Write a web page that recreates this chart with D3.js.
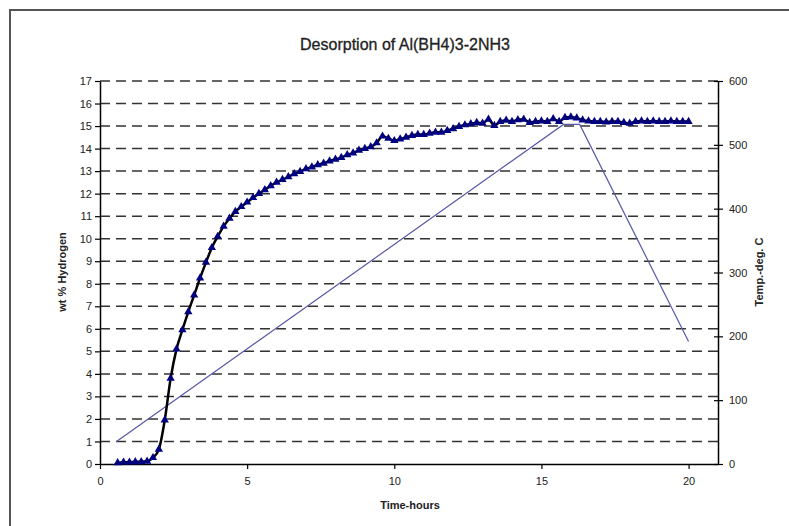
<!DOCTYPE html>
<html>
<head>
<meta charset="utf-8">
<script src="https://cdn.jsdelivr.net/npm/d3@7"></script>
<style>
  body { margin: 0; background: #fff; }
  text { font-family: "Liberation Sans", Arial, sans-serif; fill: #222; }
</style>
</head>
<body>
<svg id="chart" width="789" height="526"></svg>
<script>
// wt % hydrogen readings (time in hours)
var hTime = [0.6, 0.8, 1.0, 1.2, 1.4, 1.6, 1.8, 2.0, 2.2, 2.4, 2.6, 2.8, 3.0, 3.2, 3.4, 3.6, 3.8, 4.0,
  4.2, 4.4, 4.6, 4.8, 5.0, 5.2, 5.4, 5.6, 5.8, 6.0, 6.2, 6.4, 6.6, 6.8, 7.0, 7.2, 7.4, 7.6, 7.8, 8.0,
  8.2, 8.4, 8.6, 8.8, 9.0, 9.2, 9.4, 9.6, 9.8, 10.0, 10.2, 10.4, 10.6, 10.8, 11.0, 11.2, 11.4, 11.6,
  11.8, 12.0, 12.2, 12.4, 12.6, 12.8, 13.0, 13.2, 13.4, 13.6, 13.8, 14.0, 14.2, 14.4, 14.6, 14.8,
  15.0, 15.2, 15.4, 15.6, 15.8, 16.0, 16.2, 16.4, 16.6, 16.8, 17.0, 17.2, 17.4, 17.6, 17.8, 18.0,
  18.2, 18.4, 18.6, 18.8, 19.0, 19.2, 19.4, 19.6, 19.8, 20.0];
var hWt = [0.05, 0.08, 0.08, 0.1, 0.1, 0.12, 0.28, 0.65, 1.95, 3.8, 5.1, 5.95, 6.75, 7.5, 8.25, 8.95, 9.6, 10.1,
  10.55, 10.9, 11.2, 11.42, 11.62, 11.82, 12.0, 12.17, 12.35, 12.5, 12.62, 12.75, 12.88, 12.98, 13.1, 13.18, 13.28, 13.35, 13.45, 13.52,
  13.6, 13.72, 13.8, 13.92, 14.0, 14.08, 14.25, 14.55, 14.45, 14.35, 14.42, 14.5, 14.58, 14.62, 14.62, 14.68, 14.72, 14.72,
  14.8, 14.88, 14.98, 15.05, 15.1, 15.15, 15.12, 15.3, 15.02, 15.2, 15.25, 15.2, 15.28, 15.3, 15.15, 15.2,
  15.22, 15.2, 15.32, 15.2, 15.38, 15.4, 15.35, 15.27, 15.22, 15.2, 15.2, 15.18, 15.2, 15.2, 15.15, 15.12,
  15.2, 15.22, 15.2, 15.22, 15.2, 15.2, 15.22, 15.2, 15.2, 15.2];

// temperature program
var tTime = [0.55, 15.75, 16.3, 20.0];
var tDeg = [35, 532, 532, 192];

var xTicks = [0, 5, 10, 15, 20];
var wtTicks = d3.range(0, 18);
var tempTicks = [0, 100, 200, 300, 400, 500, 600];

var svg = d3.select("#chart");

// outer frame
svg.append("rect")
    .attr("x", 10).attr("y", 10)
    .attr("width", 800).attr("height", 540)
    .attr("fill", "none")
    .attr("stroke", "#555")
    .attr("stroke-width", 2);

var x = d3.scaleLinear().domain([0, 21]).range([100, 718]);
var y = d3.scaleLinear().domain([0, 17]).range([464, 81]);
var yT = d3.scaleLinear().domain([0, 600]).range([464, 81]);

// dashed gridlines
svg.append("g").selectAll("line")
    .data(wtTicks.filter(function(d) { return d > 0; }))
    .enter().append("line")
    .attr("x1", x(0)).attr("x2", x(21))
    .attr("y1", function(d) { return y(d); })
    .attr("y2", function(d) { return y(d); })
    .attr("stroke", "#333")
    .attr("stroke-width", 1.5)
    .attr("stroke-dasharray", "10,6");

// axes
var gx = svg.append("g").attr("transform", "translate(0," + y(0) + ")")
    .call(d3.axisBottom(x).tickValues(xTicks).tickSize(5).tickSizeOuter(0).tickPadding(8));
var gy = svg.append("g").attr("transform", "translate(" + x(0) + ",0)")
    .call(d3.axisLeft(y).tickValues(wtTicks).tickSize(5).tickSizeOuter(0).tickPadding(3));
var gr = svg.append("g").attr("transform", "translate(" + x(21) + ",0)")
    .call(d3.axisRight(yT).tickValues(tempTicks).tickSize(5).tickSizeOuter(0).tickPadding(6));
gr.selectAll(".tick line").attr("x1", -4);

[gx, gy, gr].forEach(function(g) {
  g.select(".domain").attr("stroke", "#000").attr("stroke-width", 1.5);
  g.selectAll(".tick line").attr("stroke", "#000").attr("stroke-width", 1.2);
  g.selectAll(".tick text").attr("font-size", 11)
      .attr("font-family", "Liberation Sans, Arial, sans-serif").attr("fill", "#222");
});

// temperature line
var tPts = tTime.map(function(t, i) { return [t, tDeg[i]]; });
svg.append("path")
    .datum(tPts)
    .attr("fill", "none")
    .attr("stroke", "#5858a8")
    .attr("stroke-width", 1.2)
    .attr("d", d3.line().x(function(d) { return x(d[0]); }).y(function(d) { return yT(d[1]); }));

// hydrogen line + markers
var hPts = hTime.map(function(t, i) { return [t, hWt[i]]; });
svg.append("path")
    .datum(hPts)
    .attr("fill", "none")
    .attr("stroke", "#000")
    .attr("stroke-width", 2.5)
    .attr("d", d3.line().curve(d3.curveMonotoneX)
        .x(function(d) { return x(d[0]); }).y(function(d) { return y(d[1]); }));

svg.append("g").selectAll("path")
    .data(hPts)
    .enter().append("path")
    .attr("transform", function(d) { return "translate(" + x(d[0]) + "," + y(d[1]) + ")"; })
    .attr("d", d3.symbol().type(d3.symbolTriangle).size(30))
    .attr("fill", "#000080");

// titles
svg.append("text")
    .attr("x", 405).attr("y", 50)
    .attr("text-anchor", "middle")
    .attr("font-size", 16)
    .attr("font-weight", "500")
    .attr("stroke", "#222").attr("stroke-width", 0.3)
    .text("Desorption of Al(BH4)3-2NH3");

svg.append("text")
    .attr("x", 410).attr("y", 509)
    .attr("text-anchor", "middle")
    .attr("font-size", 11).attr("font-weight", "bold")
    .text("Time-hours");

svg.append("text")
    .attr("transform", "translate(66,272) rotate(-90)")
    .attr("text-anchor", "middle")
    .attr("font-size", 11).attr("font-weight", "bold")
    .text("wt % Hydrogen");

svg.append("text")
    .attr("transform", "translate(763,272) rotate(-90)")
    .attr("text-anchor", "middle")
    .attr("font-size", 11).attr("font-weight", "bold")
    .text("Temp.-deg. C");
</script>
</body>
</html>
